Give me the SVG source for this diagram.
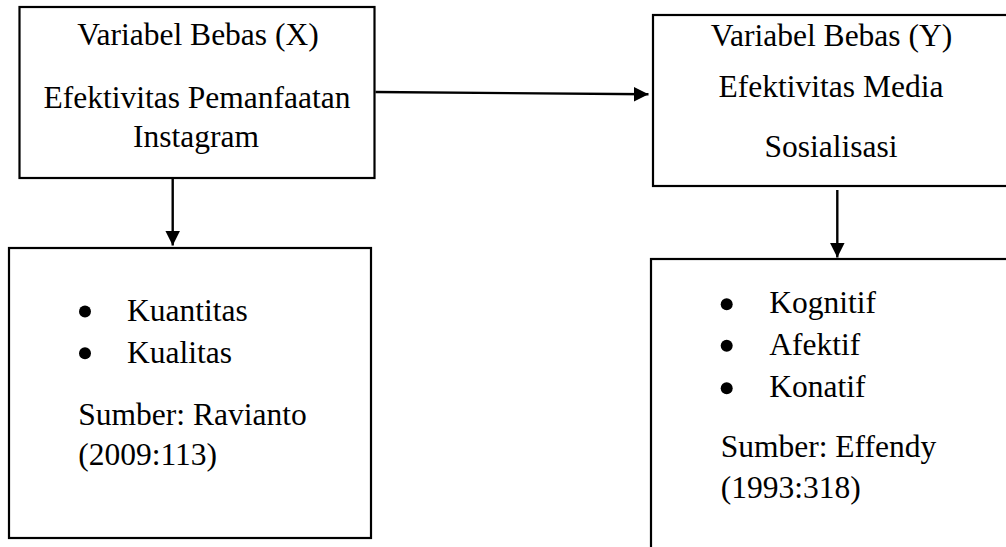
<svg xmlns="http://www.w3.org/2000/svg" width="1006" height="547" viewBox="0 0 1006 547">
<style>
.box{fill:#fff;stroke:#000;stroke-width:2.2}
.t{font-family:"Liberation Serif","Times New Roman",serif;font-size:31.5px;fill:#000}
.c{text-anchor:middle}
.ln{stroke:#000;stroke-width:2.4;fill:none}
.dot{fill:#000}
</style>
<defs>
<marker id="ah" viewBox="0 0 10 10" refX="10" refY="5" markerWidth="6.2" markerHeight="6.6" markerUnits="strokeWidth" orient="auto">
<path d="M0,0 L10,5 L0,10 z" fill="#000"/>
</marker>
</defs>
<rect width="1006" height="547" fill="#fff"/>
<g id="connectors">
<line class="ln" x1="375.5" y1="92" x2="648.5" y2="94.3" marker-end="url(#ah)"/>
<line class="ln" x1="172.7" y1="179" x2="172.7" y2="245.5" marker-end="url(#ah)"/>
<line class="ln" x1="837.3" y1="190" x2="837.3" y2="257.5" marker-end="url(#ah)"/>
</g>
<g id="node-x">
<rect class="box" x="19.5" y="7" width="355" height="171"/>
<text class="t c" x="198" y="45">Variabel Bebas (X)</text>
<text class="t c" x="197" y="108">Efektivitas Pemanfaatan</text>
<text class="t c" x="196" y="147">Instagram</text>
</g>
<g id="node-y">
<rect class="box" x="653" y="15" width="370" height="171"/>
<text class="t c" x="831.5" y="46">Variabel Bebas (Y)</text>
<text class="t c" x="831" y="97">Efektivitas Media</text>
<text class="t c" x="831" y="157">Sosialisasi</text>
</g>
<g id="node-x-indicators">
<rect class="box" x="9" y="248" width="362" height="290"/>
<circle class="dot" cx="85" cy="311.5" r="6"/>
<circle class="dot" cx="85" cy="353.3" r="6"/>
<text class="t" x="127" y="321">Kuantitas</text>
<text class="t" x="127" y="362.5">Kualitas</text>
<text class="t" x="78.3" y="425">Sumber: Ravianto</text>
<text class="t" x="78.3" y="465">(2009:113)</text>
</g>
<g id="node-y-indicators">
<rect class="box" x="651" y="259" width="380" height="300"/>
<circle class="dot" cx="726.7" cy="304.3" r="6"/>
<circle class="dot" cx="726.7" cy="345.7" r="6"/>
<circle class="dot" cx="726.7" cy="388.3" r="6"/>
<text class="t" x="769.3" y="313">Kognitif</text>
<text class="t" x="769.3" y="354.5">Afektif</text>
<text class="t" x="769.3" y="396.7">Konatif</text>
<text class="t" x="720.7" y="457">Sumber: Effendy</text>
<text class="t" x="720.7" y="498">(1993:318)</text>
</g>
</svg>
